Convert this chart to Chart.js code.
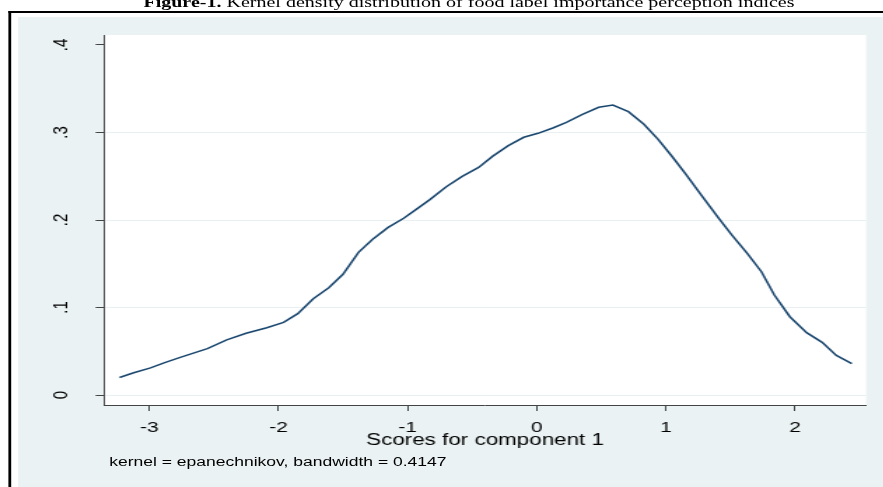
<!doctype html>
<html lang="en">
  <head>
    <meta charset="utf-8">
    <title>Kernel density</title>
    <style>
      * {
        margin: 0;
        padding: 0;
      }
      body {
        width: 883px;
        height: 487px;
        overflow: hidden;
        background: #fff;
      }
      /* the reference is stretched sideways, so lay it out narrow and scale it */
      .stretch {
        position: absolute;
        left: 0;
        top: 0;
        width: 631px;
        height: 487px;
        transform: scaleX(1.4);
        transform-origin: 0 0;
      }
      .figTitle {
        position: absolute;
        left: 0;
        top: -5px;
        width: 670px;
        line-height: 15px;
        text-align: center;
        white-space: nowrap;
        font-family: "Liberation Serif", serif;
        font-size: 14.3px;
        color: #000;
      }
      .frame {
        position: absolute;
        left: 6px;
        top: 11px;
        width: 700px;
        height: 600px;
        border-left: 2px solid #000;
        border-top: 2px solid #000;
      }
      .chartCard {
        position: absolute;
        left: 13px;
        top: 17px;
        width: 618px;
        height: 470px;
        background: #EAF2F3;
      }
      .note {
        position: absolute;
        left: 78px;
        top: 454px;
        line-height: 16px;
        white-space: nowrap;
        font-family: "Liberation Sans", sans-serif;
        font-size: 12.5px;
        color: #000;
      }
    </style>
  </head>
  <body>
    <div class="stretch">
      <div class="figTitle"><b>Figure-1.</b> Kernel density distribution of food label importance perception indices</div>
      <div class="frame"></div>
      <div class="chartCard">
        <canvas id="myChart" width="618" height="470"></canvas>
      </div>
      <div class="note">kernel = epanechnikov, bandwidth = 0.4147</div>
    </div>
    <script src="https://cdn.jsdelivr.net/npm/chart.js/dist/chart.umd.min.js"></script>
    <script>
    // data
    const scores = [-3.23, -3.12, -2.99, -2.88, -2.76, -2.55, -2.40, -2.25, -2.09, -1.96,
      -1.85, -1.73, -1.61, -1.50, -1.38, -1.27, -1.15, -1.03, -0.93, -0.83,
      -0.70, -0.58, -0.45, -0.34, -0.22, -0.10, 0.01, 0.13, 0.23, 0.35,
      0.48, 0.59, 0.71, 0.83, 0.94, 1.05, 1.16, 1.26, 1.41, 1.51,
      1.63, 1.74, 1.84, 1.96, 2.09, 2.21, 2.32, 2.44];
    const density = [0.020, 0.0255, 0.031, 0.037, 0.043, 0.053, 0.063, 0.0705, 0.077, 0.083,
      0.093, 0.110, 0.1225, 0.138, 0.163, 0.178, 0.1915, 0.202, 0.2125, 0.223,
      0.238, 0.2495, 0.260, 0.273, 0.285, 0.2945, 0.299, 0.3055, 0.3115, 0.3205,
      0.3288, 0.3314, 0.3238, 0.3094, 0.2922, 0.2723, 0.2514, 0.2312, 0.2019, 0.1829,
      0.1619, 0.1409, 0.1143, 0.0895, 0.0712, 0.0602, 0.0453, 0.0358];
    const xTicks = [-3, -2, -1, 0, 1, 2];
    const yTicks = [0, 0.1, 0.2, 0.3, 0.4];
    const yTickLabels = ['0', '.1', '.2', '.3', '.4'];

    Chart.defaults.font.family = '"Liberation Sans", Arial, sans-serif';
    Chart.defaults.color = '#000';

    // white plot region
    const plotBg = {
      id: 'plotBg',
      beforeDraw(chart) {
        const { ctx, chartArea: a } = chart;
        ctx.save();
        ctx.fillStyle = '#fff';
        ctx.fillRect(a.left, a.top, a.right - a.left, a.bottom - a.top);
        ctx.restore();
      }
    };

    // y tick labels turned on their side
    const yLabels = {
      id: 'yLabels',
      afterDraw(chart) {
        const { ctx } = chart;
        const y = chart.scales.y;
        ctx.save();
        ctx.font = '15px "Liberation Sans", Arial, sans-serif';
        ctx.fillStyle = '#000';
        ctx.textAlign = 'center';
        ctx.textBaseline = 'middle';
        yTicks.forEach((v, i) => {
          ctx.save();
          ctx.translate(31, y.getPixelForValue(v));
          ctx.rotate(-Math.PI / 2);
          ctx.fillText(yTickLabels[i], 0, 0);
          ctx.restore();
        });
        ctx.restore();
      }
    };

    const data = {
      datasets: [{
        data: scores.map((s, i) => ({ x: s, y: density[i] })),
        borderColor: '#1A476F',
        borderWidth: 1.6,
        pointRadius: 0,
        tension: 0,
        fill: false
      }]
    };

    const config = {
      type: 'line',
      data,
      options: {
        responsive: false,
        animation: false,
        layout: {
          padding: { top: 18, right: 12.4, left: 0, bottom: 0 }
        },
        plugins: {
          legend: { display: false },
          tooltip: { enabled: false }
        },
        scales: {
          x: {
            type: 'linear',
            min: -3.35,
            max: 2.55,
            afterBuildTicks: s => { s.ticks = xTicks.map(v => ({ value: v })); },
            afterFit: s => { s.height = 82; },
            border: { color: '#444', width: 1 },
            grid: {
              drawOnChartArea: false,
              tickLength: 6,
              tickColor: '#444'
            },
            ticks: {
              font: { size: 15 },
              padding: 8,
              maxRotation: 0,
              callback: v => String(v)
            },
            title: {
              display: true,
              text: 'Scores for component 1',
              font: { size: 16 },
              padding: { top: 0, bottom: 37 }
            }
          },
          y: {
            min: -0.0114,
            max: 0.4114,
            afterBuildTicks: s => { s.ticks = yTicks.map(v => ({ value: v })); },
            afterFit: s => { s.width = 61.3; },
            border: { color: '#444', width: 1 },
            grid: {
              color: c => (c.tick && Math.abs(c.tick.value - 0.4) < 1e-9) ? 'rgba(0,0,0,0)' : '#E8F0F2',
              lineWidth: 1,
              tickLength: 6,
              tickColor: '#444'
            },
            ticks: { display: false }
          }
        }
      },
      plugins: [plotBg, yLabels]
    };

    const myChart = new Chart(document.getElementById('myChart'), config);
    </script>
  </body>
</html>
